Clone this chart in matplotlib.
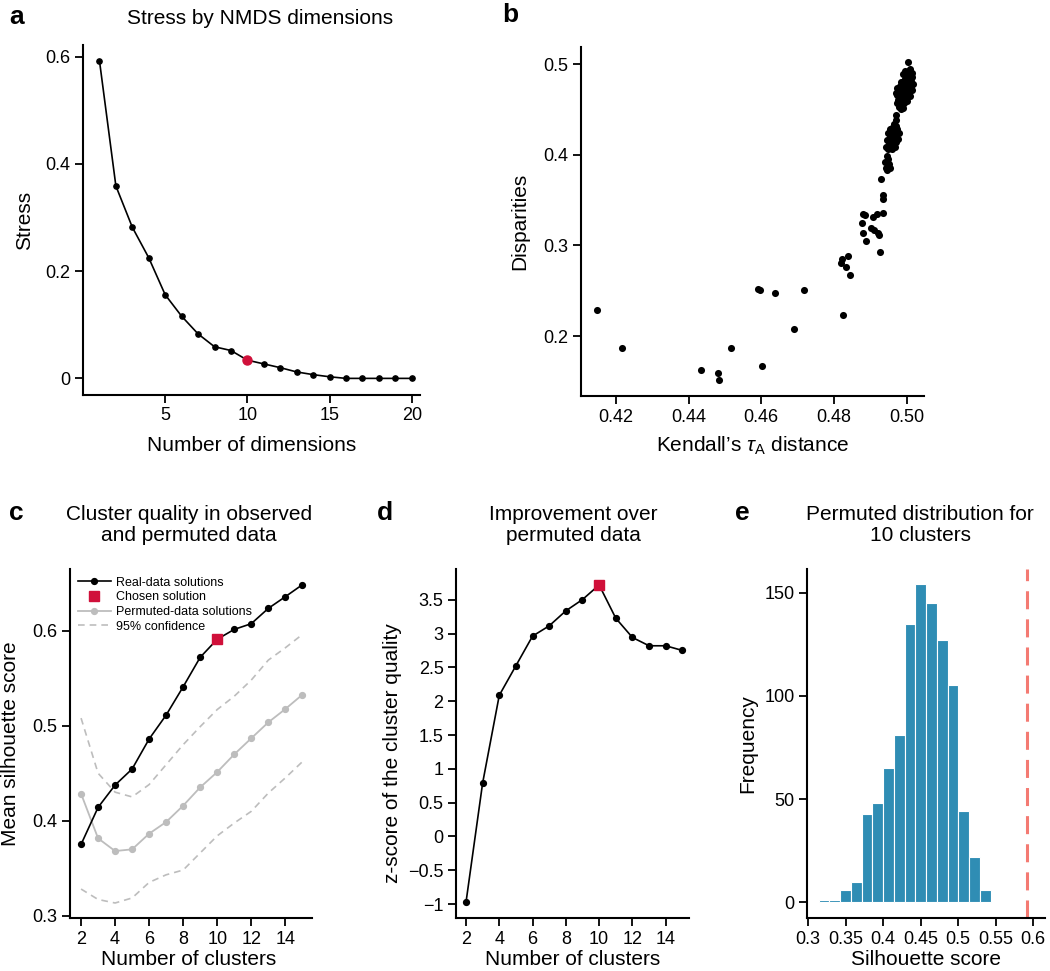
import numpy as np
import matplotlib
matplotlib.use('Agg')
import matplotlib.pyplot as plt
from matplotlib.ticker import FuncFormatter

plt.rcParams['font.family'] = ['Liberation Sans', 'DejaVu Sans']
plt.rcParams['mathtext.fontset'] = 'custom'
plt.rcParams['mathtext.rm'] = 'Liberation Sans'
plt.rcParams['mathtext.it'] = 'Liberation Sans:italic'

# panel a: stress by number of NMDS dimensions
dims = list(range(1, 21))
stress = [0.593, 0.359, 0.282, 0.225, 0.156, 0.116, 0.083, 0.059, 0.052, 0.034,
          0.027, 0.020, 0.012, 0.007, 0.003, 0.0, 0.0, 0.0, 0.0, 0.0]
chosen_dim = 10

# panel b: Shepard-type plot
tau_dist = [0.4147, 0.4217, 0.4434, 0.4482, 0.4484, 0.4516, 0.4590, 0.4597, 0.4601,
            0.4639, 0.4689, 0.4718, 0.4824, 0.4819, 0.4822, 0.4833, 0.4840, 0.4844,
            0.4881, 0.4876, 0.4879, 0.4887, 0.4885, 0.4901, 0.4907, 0.4918, 0.4922,
            0.4925, 0.4927, 0.4929, 0.4934, 0.4936, 0.4936, 0.4910,
            0.5003, 0.5010, 0.5014, 0.5016, 0.5012, 0.5005, 0.4998, 0.4992, 0.4985,
            0.4990, 0.4998, 0.5006, 0.5013, 0.5016, 0.5008, 0.5000, 0.4992, 0.4984,
            0.4978, 0.4986, 0.4994, 0.5002, 0.5009, 0.4996, 0.4988, 0.4980, 0.4974,
            0.4976, 0.4984, 0.4992, 0.5000, 0.4978, 0.4986, 0.4995, 0.5003, 0.4982,
            0.4975, 0.4990, 0.5008, 0.4997, 0.5018, 0.4970, 0.4973, 0.4990,
            0.4972, 0.4970, 0.4966, 0.4960, 0.4955, 0.4966, 0.4975, 0.4970, 0.4962,
            0.4955, 0.4950, 0.4957, 0.4965, 0.4972, 0.4977, 0.4960, 0.4968, 0.4952,
            0.4947, 0.4960, 0.4950, 0.4944, 0.4978, 0.4970, 0.4962,
            0.4945, 0.4950, 0.4942, 0.4948, 0.4955, 0.4943, 0.4953, 0.4946]
disparities = [0.2287, 0.1864, 0.1625, 0.1588, 0.1515, 0.1864, 0.2515, 0.2507, 0.1673,
               0.2478, 0.2077, 0.2507, 0.2235, 0.2801, 0.2853, 0.2757, 0.2882, 0.2669,
               0.3346, 0.3250, 0.3132, 0.3051, 0.3335, 0.3188, 0.3312, 0.3342, 0.3132,
               0.3114, 0.2930, 0.3732, 0.3507, 0.3555, 0.3353, 0.3169,
               0.5025, 0.495, 0.490, 0.486, 0.482, 0.488, 0.485, 0.482, 0.480,
               0.477, 0.478, 0.476, 0.474, 0.472, 0.470, 0.472, 0.471, 0.473,
               0.470, 0.467, 0.466, 0.468, 0.465, 0.462, 0.460, 0.463, 0.466,
               0.460, 0.456, 0.457, 0.459, 0.453, 0.451, 0.484, 0.481, 0.476,
               0.474, 0.489, 0.492, 0.493, 0.478, 0.468, 0.457, 0.452,
               0.444, 0.438, 0.434, 0.430, 0.428, 0.427, 0.429, 0.423, 0.421,
               0.420, 0.424, 0.416, 0.415, 0.414, 0.418, 0.411, 0.409, 0.412,
               0.416, 0.406, 0.406, 0.409, 0.424, 0.432, 0.426,
               0.399, 0.395, 0.392, 0.388, 0.386, 0.385, 0.390, 0.383]

# panel c: silhouette scores
clusters = list(range(2, 16))
real_sil = [0.375, 0.414, 0.4375, 0.4544, 0.486, 0.5112, 0.541, 0.572, 0.591,
            0.6014, 0.6074, 0.6235, 0.6358, 0.6484]
perm_sil = [0.4284, 0.3814, 0.368, 0.3698, 0.3863, 0.3986, 0.4158, 0.4351, 0.4512,
            0.4698, 0.4867, 0.5035, 0.5175, 0.5326]
ci_upper = [0.508, 0.450, 0.430, 0.425, 0.438, 0.459, 0.480, 0.499, 0.517,
            0.531, 0.548, 0.569, 0.582, 0.596]
ci_lower = [0.328, 0.317, 0.3133, 0.3186, 0.335, 0.343, 0.348, 0.366, 0.384,
            0.3975, 0.4098, 0.429, 0.445, 0.462]
chosen_k = 10

# panel d: z-scores
zscore = [-0.976, 0.790, 2.088, 2.526, 2.964, 3.116, 3.338, 3.505, 3.721,
          3.229, 2.944, 2.821, 2.821, 2.752]

# panel e: permuted distribution for 10 clusters
bin_edges = np.linspace(0.3142, 0.5431, 17)
bin_counts = [1, 1, 6, 10, 43, 48, 65, 81, 135, 154, 145, 127, 105, 44, 22, 6]
observed_sil = 0.592

RED = '#D0103A'
GRAY = '#BDBDBD'
BLUE = '#2F8DB4'

fig = plt.figure(figsize=(10.5, 9.71), dpi=100)
W, H = 1050, 971


def add_ax(left, top, right, bottom):
    return fig.add_axes([left / W, 1 - bottom / H, (right - left) / W, (bottom - top) / H])


def style(ax):
    for s in ['top', 'right']:
        ax.spines[s].set_visible(False)
    for s in ['left', 'bottom']:
        ax.spines[s].set_linewidth(1.5)
    ax.tick_params(direction='out', length=6, width=1.3, labelsize=13, pad=3)


gfmt = FuncFormatter(lambda v, p: ('%g' % round(v, 6)).replace('-', '\u2212'))

# ---- a
ax = add_ax(83, 45, 420, 395)
style(ax)
ax.plot(dims, stress, color='black', lw=1.2, marker='o', ms=3.8, zorder=2)
ax.plot(dims[chosen_dim - 1], stress[chosen_dim - 1], 'o', color=RED, ms=6.5, zorder=3)
ax.set_xlim(0, 20.5)
ax.set_ylim(-0.031, 0.622)
ax.set_xticks([5, 10, 15, 20])
ax.set_yticks([0, 0.2, 0.4, 0.6])
ax.yaxis.set_major_formatter(gfmt)
ax.set_xlabel('Number of dimensions', fontsize=15)
ax.set_ylabel('Stress', fontsize=15)
ax.xaxis.set_label_coords(0.5, -0.117)
ax.yaxis.set_label_coords(-0.145, 0.5)
fig.text(260 / W, 1 - 18 / H, 'Stress by NMDS dimensions', fontsize=15, ha='center', va='center')
fig.text(9 / W, 1 - 17 / H, 'a', fontsize=19, fontweight='bold', ha='left', va='center')

# ---- b
ax = add_ax(581, 47, 924, 396)
style(ax)
ax.scatter(tau_dist, disparities, s=26, color='black', linewidths=0)
ax.set_xlim(0.4104, 0.5048)
ax.set_ylim(0.1338, 0.519)
ax.set_xticks([0.42, 0.44, 0.46, 0.48, 0.50])
ax.set_yticks([0.2, 0.3, 0.4, 0.5])
ax.xaxis.set_major_formatter(FuncFormatter(lambda v, p: '%.2f' % v))
ax.yaxis.set_major_formatter(gfmt)
ax.set_xlabel('Kendall\u2019s $\\tau_\\mathrm{A}$ distance', fontsize=15)
ax.set_ylabel('Disparities', fontsize=15)
ax.xaxis.set_label_coords(0.5, -0.112)
ax.yaxis.set_label_coords(-0.152, 0.5)
fig.text(502 / W, 1 - 15 / H, 'b', fontsize=19, fontweight='bold', ha='left', va='center')

# ---- c
ax = add_ax(70, 569, 312, 918)
style(ax)
ax.plot(clusters, ci_upper, color=GRAY, lw=1.2, ls=(0, (4, 3)), label='95% confidence')
ax.plot(clusters, ci_lower, color=GRAY, lw=1.2, ls=(0, (4, 3)))
ax.plot(clusters, perm_sil, color=GRAY, lw=1.3, marker='o', ms=4.2, label='Permuted-data solutions')
ax.plot(clusters, real_sil, color='black', lw=1.2, marker='o', ms=4.2, label='Real-data solutions')
ax.plot(chosen_k, real_sil[clusters.index(chosen_k)], 's', color=RED, ms=6.5, ls='none',
        label='Chosen solution', zorder=4)
h, l = ax.get_legend_handles_labels()
order = [2, 3, 1, 0]
ax.legend([h[i] for i in order], [l[i] for i in order], loc='upper left',
          bbox_to_anchor=(0.0, 1.0), frameon=False, fontsize=9, handlelength=2.7,
          handletextpad=0.35, labelspacing=0.22, borderaxespad=0.2)
ax.set_xlim(1.35, 15.57)
ax.set_ylim(0.2975, 0.665)
ax.set_xticks(range(2, 15, 2))
ax.set_yticks([0.3, 0.4, 0.5, 0.6])
ax.yaxis.set_major_formatter(gfmt)
ax.set_xlabel('Number of clusters', fontsize=15)
ax.set_ylabel('Mean silhouette score', fontsize=15)
ax.xaxis.set_label_coords(0.49, -0.092)
ax.yaxis.set_label_coords(-0.207, 0.5)
fig.text(189 / W, 1 - 525 / H, 'Cluster quality in observed\nand permuted data', fontsize=15,
         ha='center', va='center', linespacing=1.15)
fig.text(9 / W, 1 - 513 / H, 'c', fontsize=19, fontweight='bold', ha='left', va='center')

# ---- d
ax = add_ax(456, 569, 689, 918)
style(ax)
ax.plot(clusters, zscore, color='black', lw=1.2, marker='o', ms=4.2)
ax.plot(chosen_k, zscore[clusters.index(chosen_k)], 's', color=RED, ms=6.5, zorder=4)
ax.set_xlim(1.4, 15.4)
ax.set_ylim(-1.207, 3.957)
ax.set_xticks(range(2, 15, 2))
ax.set_yticks(np.arange(-1, 3.6, 0.5))
ax.yaxis.set_major_formatter(gfmt)
ax.set_xlabel('Number of clusters', fontsize=15)
ax.set_ylabel('z-score of the cluster quality', fontsize=15)
ax.xaxis.set_label_coords(0.5, -0.092)
ax.yaxis.set_label_coords(-0.232, 0.473)
fig.text(573 / W, 1 - 525 / H, 'Improvement over\npermuted data', fontsize=15,
         ha='center', va='center', linespacing=1.15)
fig.text(377 / W, 1 - 513 / H, 'd', fontsize=19, fontweight='bold', ha='left', va='center')

# ---- e
ax = add_ax(807, 569, 1045, 918)
style(ax)
ax.bar(bin_edges[:-1], bin_counts, width=np.diff(bin_edges), align='edge', color=BLUE,
       edgecolor='white', linewidth=0.8)
ax.axvline(observed_sil, color='#F47A72', lw=2.2, dashes=(5.9, 3.3))
ax.set_xlim(0.2987, 0.6156)
ax.set_ylim(-7.6, 161.4)
ax.set_xticks(np.arange(0.3, 0.601, 0.05))
ax.set_yticks([0, 50, 100, 150])
ax.xaxis.set_major_formatter(gfmt)
ax.yaxis.set_major_formatter(gfmt)
ax.set_xlabel('Silhouette score', fontsize=15)
ax.set_ylabel('Frequency', fontsize=15)
ax.xaxis.set_label_coords(0.5, -0.092)
ax.yaxis.set_label_coords(-0.21, 0.5)
fig.text(920 / W, 1 - 525 / H, 'Permuted distribution for\n10 clusters', fontsize=15,
         ha='center', va='center', linespacing=1.15)
fig.text(735 / W, 1 - 513 / H, 'e', fontsize=19, fontweight='bold', ha='left', va='center')

fig.savefig('out.png', dpi=100)
